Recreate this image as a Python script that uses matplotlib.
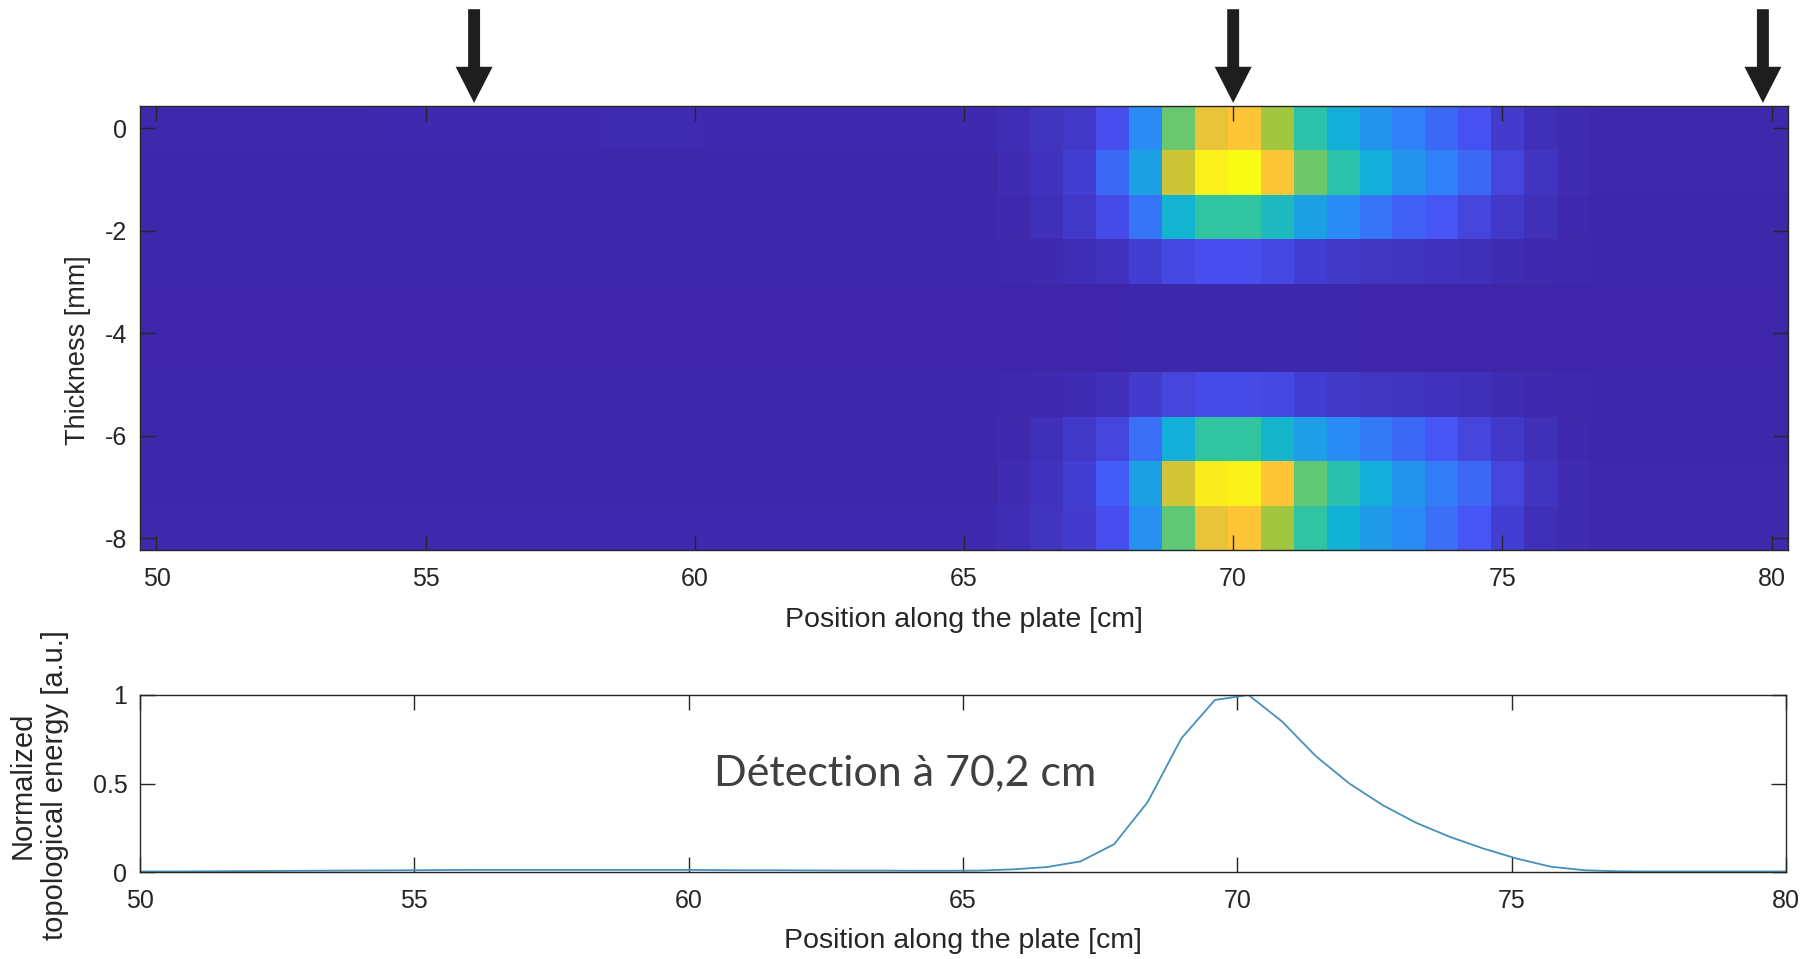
import numpy as np
import matplotlib
matplotlib.use('Agg')
import matplotlib.pyplot as plt
from matplotlib.colors import LinearSegmentedColormap

# position along the plate (cm), 50 samples, and thickness (mm), 10 samples
x_start, x_end, n_x = 50, 80, 50
y_top, y_bottom, n_y = 0, -7.8, 10

# normalized topological energy map, one list per thickness row (top row first)
row0 = [0.008]*7 + [0.014]*7 + [0.018]*3 + [0.014]*9 + [0.025, 0.045, 0.06, 0.13, 0.30, 0.63, 0.82, 0.86, 0.70, 0.53, 0.42, 0.33, 0.27, 0.20, 0.14, 0.07, 0.035, 0.02] + [0.01]*6
row1 = [0.006]*26 + [0.02, 0.04, 0.08, 0.20, 0.37, 0.77, 0.97, 1.00, 0.86, 0.64, 0.53, 0.42, 0.33, 0.27, 0.20, 0.10, 0.045, 0.02] + [0.008]*6
row2 = [0.006]*26 + [0.015, 0.035, 0.06, 0.12, 0.24, 0.44, 0.55, 0.55, 0.48, 0.37, 0.30, 0.24, 0.18, 0.15, 0.10, 0.06, 0.03, 0.015] + [0.006]*6
row3 = [0.004]*26 + [0.008, 0.015, 0.025, 0.04, 0.08, 0.11, 0.13, 0.13, 0.11, 0.08, 0.06, 0.05, 0.045, 0.04, 0.03, 0.02, 0.012, 0.008] + [0.004]*6
row4 = [0.0]*29 + [0.003, 0.005, 0.006, 0.007, 0.007, 0.006, 0.005, 0.004, 0.003] + [0.0]*12
row5 = [0.0]*29 + [0.003, 0.005, 0.006, 0.007, 0.007, 0.006, 0.005, 0.004, 0.003] + [0.0]*12
row6 = [0.004]*26 + [0.008, 0.015, 0.022, 0.035, 0.07, 0.10, 0.12, 0.12, 0.11, 0.08, 0.06, 0.05, 0.045, 0.04, 0.03, 0.02, 0.012, 0.008] + [0.004]*6
row7 = [0.006]*26 + [0.015, 0.035, 0.06, 0.10, 0.22, 0.42, 0.55, 0.55, 0.45, 0.36, 0.30, 0.25, 0.20, 0.15, 0.10, 0.06, 0.03, 0.015] + [0.006]*6
row8 = [0.006]*26 + [0.02, 0.04, 0.08, 0.17, 0.37, 0.78, 0.96, 0.98, 0.86, 0.62, 0.52, 0.42, 0.33, 0.26, 0.20, 0.10, 0.045, 0.02] + [0.008]*6
row9 = [0.008]*10 + [0.014]*16 + [0.025, 0.045, 0.07, 0.13, 0.32, 0.62, 0.82, 0.86, 0.70, 0.55, 0.43, 0.35, 0.30, 0.22, 0.15, 0.08, 0.035, 0.02] + [0.01]*6

# normalized energy profile along the plate
energy = [0.003, 0.003, 0.004, 0.005, 0.006, 0.007, 0.008, 0.009, 0.010, 0.011,
          0.012, 0.012, 0.012, 0.012, 0.012, 0.012, 0.012, 0.011, 0.010, 0.010,
          0.009, 0.008, 0.008, 0.007, 0.007, 0.008, 0.015, 0.028, 0.060, 0.157,
          0.396, 0.755, 0.972, 1.000, 0.850, 0.655, 0.500, 0.377, 0.277, 0.198,
          0.132, 0.075, 0.030, 0.010, 0.004, 0.003, 0.003, 0.003, 0.003, 0.003]

arrow_x = [55.9, 70.0, 79.84]
detection_text = 'Détection à 70,2 cm'

# parula-like colormap
parula = LinearSegmentedColormap.from_list('parula', [
    (0.2422, 0.1504, 0.6603), (0.2810, 0.3228, 0.9579), (0.1786, 0.5289, 0.9682),
    (0.0689, 0.6948, 0.8394), (0.2161, 0.7843, 0.5923), (0.6720, 0.7793, 0.2227),
    (0.9970, 0.7659, 0.2199), (0.9769, 0.9839, 0.0805)])

plt.rcParams['font.family'] = ['Liberation Sans', 'DejaVu Sans']
plt.rcParams['axes.unicode_minus'] = False
dark = (0.15, 0.15, 0.15)

x = np.linspace(x_start, x_end, n_x)
y = np.linspace(y_top, y_bottom, n_y)
Z = np.array([row0, row1, row2, row3, row4, row5, row6, row7, row8, row9])

fig = plt.figure(figsize=(18.08, 9.59), dpi=100)
W, H = 1808, 959

def style(ax):
    ax.tick_params(direction='in', length=11, width=1, colors=dark, labelsize=18,
                   top=True, right=True, pad=9)
    ax.tick_params(axis='x', pad=12)
    for s in ax.spines.values():
        s.set_color(dark)
        s.set_linewidth(1)

# top: energy map
ax1 = fig.add_axes([140/W, 1 - 550/H, 1648/W, 444/H])
ax1.pcolormesh(x, y, Z, shading='nearest', cmap=parula, vmin=0, vmax=1)
ax1.set_xticks(np.arange(50, 81, 5))
ax1.set_yticks(np.arange(-8, 1, 2))
style(ax1)
ax1.set_xlabel('Position along the plate [cm]', fontsize=20.5, color=dark, labelpad=12)
ax1.set_ylabel('Thickness [mm]', fontsize=19.5, color=dark)
ax1.yaxis.set_label_coords(-0.03, 0.45)

for xa in arrow_x:
    ax1.annotate('', xy=(xa, 1.007), xytext=(xa, 1.218),
                 xycoords=ax1.get_xaxis_transform(), annotation_clip=False,
                 arrowprops=dict(width=8.6, headwidth=26.6, headlength=26,
                                 shrink=0, color='#1e1e1e', lw=0))

# bottom: energy profile
ax2 = fig.add_axes([140/W, 1 - 872/H, 1646/W, 177/H])
ax2.plot(x, energy, color='#4690bb', lw=1.3)
ax2.set_xlim(50, 80)
ax2.set_ylim(0, 1)
ax2.set_xticks(np.arange(50, 81, 5))
ax2.set_yticks([0, 0.5, 1])
ax2.set_yticklabels(['0', '0.5', '1'])
style(ax2)
ax2.set_xlabel('Position along the plate [cm]', fontsize=20.5, color=dark, labelpad=11)
ax2.set_ylabel('Normalized\ntopological energy [a.u.]', fontsize=21, color=dark,
               linespacing=1.2)
ax2.yaxis.set_label_coords(-0.043, 0.49)

ax2.text(0.465, 0.56, detection_text, transform=ax2.transAxes, ha='center', va='center',
         fontsize=31, color='#404040', family=['Lato', 'DejaVu Sans'])

fig.savefig('out.png', dpi=100)
